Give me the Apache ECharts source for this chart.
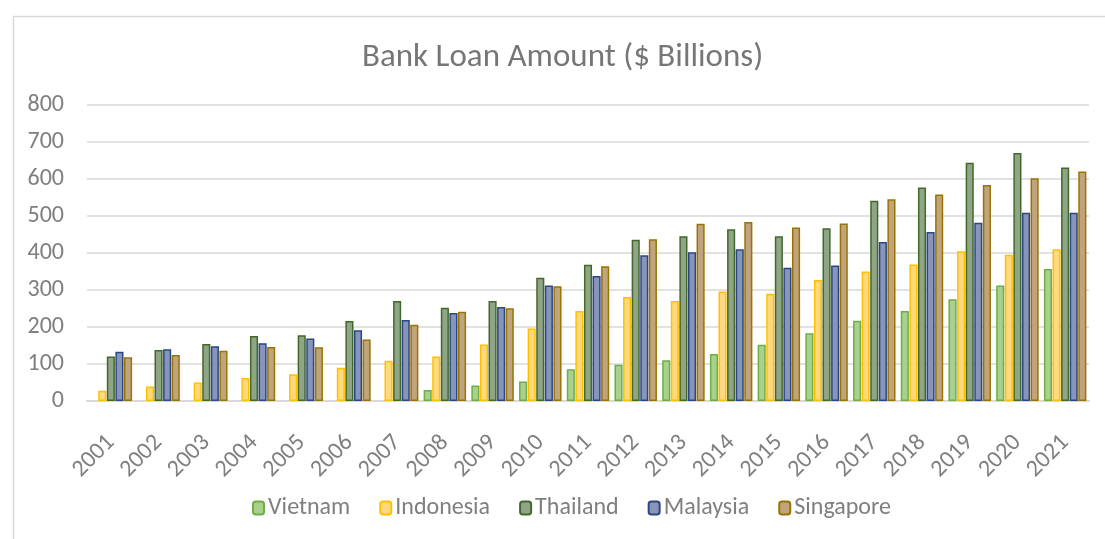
<!DOCTYPE html>
<html>
<head>
<meta charset="utf-8">
<title>Bank Loan Amount</title>
<script src="https://cdn.jsdelivr.net/npm/echarts@6/dist/echarts.min.js"></script>
<style>
  html, body { margin: 0; padding: 0; background: #ffffff; }
  #chart { width: 1105px; height: 539px; }
</style>
</head>
<body>
<div id="chart"></div>
<script>
// Bank loans by country, $ billions
const years = ['2001','2002','2003','2004','2005','2006','2007','2008','2009','2010','2011',
               '2012','2013','2014','2015','2016','2017','2018','2019','2020','2021'];
const vietnam   = [null, null, null, null, null, null, null, 30, 42, 53, 86, 98, 110, 127, 152, 183, 217, 243, 275, 312, 357];
const indonesia = [28, 39, 50, 62, 72, 90, 109, 120, 153, 196, 243, 281, 270, 296, 290, 327, 350, 369, 405, 395, 410];
const thailand  = [120, 138, 154, 176, 178, 216, 270, 252, 270, 333, 368, 436, 445, 464, 445, 467, 541, 577, 644, 670, 631];
const malaysia  = [133, 140, 148, 156, 169, 191, 219, 238, 254, 312, 338, 394, 402, 410, 360, 366, 430, 457, 482, 509, 509];
const singapore = [118, 124, 136, 146, 145, 166, 206, 241, 251, 310, 364, 437, 479, 484, 469, 480, 545, 558, 584, 602, 620];
const yTicks = [0, 800, 100]; // min, max, step

const font = 'Carlito, "Open Sans", "Noto Sans", sans-serif';
const textGray = '#7f7f7f';

const seriesDefs = [
  { name: 'Vietnam',   data: vietnam,   fill: '#a9d18e', edge: '#70ad47' },
  { name: 'Indonesia', data: indonesia, fill: '#ffd97f', edge: '#ffc000' },
  { name: 'Thailand',  data: thailand,  fill: '#8fa586', edge: '#43682b' },
  { name: 'Malaysia',  data: malaysia,  fill: '#8894b8', edge: '#2a4785' },
  { name: 'Singapore', data: singapore, fill: '#c0a47e', edge: '#9a7400' }
];

const chart = echarts.init(document.getElementById('chart'));
chart.setOption({
  backgroundColor: '#ffffff',
  animation: false,
  graphic: [{
    type: 'rect',
    left: 11, top: 14,
    shape: { width: 1110, height: 540 },
    style: { fill: 'none', stroke: '#d9d9d9', lineWidth: 1.5 },
    silent: true
  }],
  title: {
    text: 'Bank Loan Amount ($ Billions)',
    left: 362,
    top: 41,
    padding: 0,
    textStyle: { fontFamily: font, fontSize: 33, fontWeight: 'normal', color: '#767676' }
  },
  legend: {
    bottom: 14,
    left: 247,
    itemWidth: 11,
    itemHeight: 13,
    itemGap: 29,
    textStyle: { fontFamily: font, fontSize: 24, color: textGray, padding: [0, 0, 0, -1] },
    data: seriesDefs.map(s => s.name)
  },
  grid: { left: 87, right: 16, top: 105, bottom: 138, containLabel: false },
  xAxis: {
    type: 'category',
    data: years,
    axisLine: { lineStyle: { color: '#d9d9d9', width: 2 } },
    axisTick: { show: false },
    axisLabel: {
      rotate: 45,
      interval: 0,
      margin: 38,
      fontFamily: font,
      fontSize: 24,
      color: textGray
    }
  },
  yAxis: {
    type: 'value',
    min: yTicks[0],
    max: yTicks[1],
    interval: yTicks[2],
    axisLine: { show: false },
    axisTick: { show: false },
    splitLine: { lineStyle: { color: '#d9d9d9', width: 1.5 } },
    axisLabel: { fontFamily: font, fontSize: 24, color: textGray, margin: 23 }
  },
  series: seriesDefs.map(s => ({
    name: s.name,
    type: 'bar',
    data: s.data,
    barGap: '6%',
    barCategoryGap: '11%',
    itemStyle: { color: s.fill, borderColor: s.edge, borderWidth: 1.5 }
  }))
});
</script>
</body>
</html>
